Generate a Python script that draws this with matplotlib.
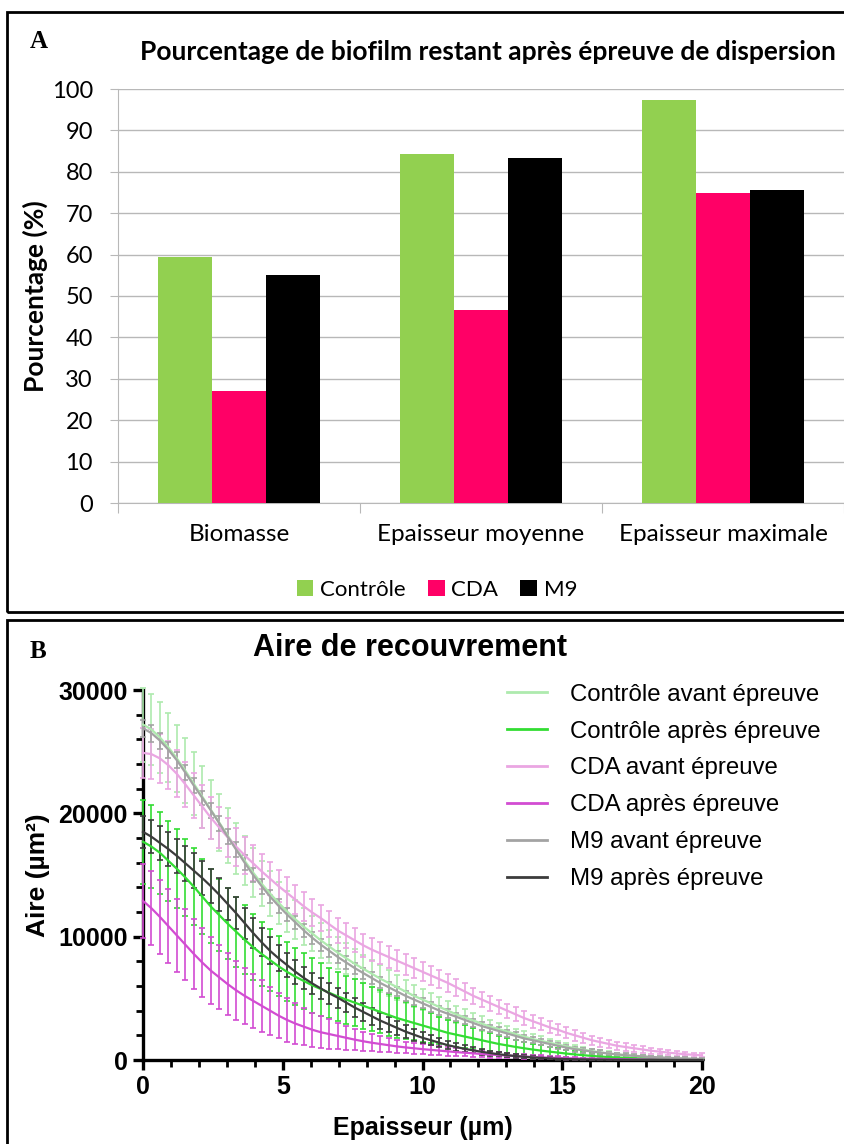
import numpy as np
import matplotlib.pyplot as plt
from matplotlib import font_manager
from matplotlib.lines import Line2D
from matplotlib.patches import Rectangle

# ---- A : pourcentage de biofilm restant ----
categories = ['Biomasse', 'Epaisseur moyenne', 'Epaisseur maximale']
controle_pct = [59.5, 84.3, 97.3]
cda_pct = [27.0, 46.5, 75.0]
m9_pct = [55.0, 83.3, 75.5]

# ---- B : aire de recouvrement (µm²) en fonction de l'épaisseur ----
epaisseur = np.linspace(0, 20, 67)

controle_avant = [27200, 26800, 26150, 25350, 24450, 23450, 22400, 21350, 20300, 19250,
                  18200, 17150, 16150, 15200, 14300, 13500, 12750, 12050, 11400, 10800,
                  10250, 9700, 9200, 8700, 8250, 7800, 7400, 7000, 6600, 6250,
                  5900, 5550, 5200, 4900, 4600, 4300, 4000, 3700, 3450, 3200,
                  2950, 2700, 2500, 2300, 2100, 1900, 1700, 1550, 1400, 1250,
                  1100, 950, 830, 720, 620, 530, 450, 380, 320, 270,
                  220, 180, 150, 120, 100, 80, 60]
controle_avant_sd = [3000, 2900, 2850, 2800, 2700, 2650, 2550, 2500, 2400, 2300,
                     2200, 2100, 2000, 1950, 1850, 1800, 1700, 1650, 1600, 1500,
                     1450, 1400, 1350, 1300, 1250, 1200, 1150, 1100, 1080, 1050,
                     1000, 950, 900, 850, 800, 780, 750, 700, 650, 620,
                     580, 550, 500, 480, 450, 420, 400, 370, 340, 310,
                     280, 250, 230, 210, 190, 170, 150, 130, 120, 110,
                     100, 90, 80, 70, 60, 50, 50]

controle_apres = [17700, 17300, 16800, 16150, 15500, 14800, 14050, 13250, 12450, 11750,
                  11050, 10400, 9750, 9150, 8600, 8100, 7600, 7150, 6750, 6400,
                  6050, 5750, 5450, 5150, 4900, 4650, 4400, 4150, 3900, 3650,
                  3400, 3200, 3000, 2800, 2600, 2400, 2200, 2050, 1900, 1750,
                  1600, 1450, 1300, 1180, 1060, 950, 850, 760, 680, 600,
                  520, 450, 390, 330, 280, 240, 200, 170, 140, 120,
                  100, 80, 70, 60, 50, 40, 30]
controle_apres_sd = [3400, 3350, 3300, 3250, 3200, 3150, 3100, 3050, 3000, 2950,
                     2900, 2850, 2800, 2700, 2600, 2500, 2450, 2400, 2300, 2250,
                     2200, 2150, 2050, 2000, 1950, 1900, 1850, 1800, 1750, 1700,
                     1600, 1500, 1400, 1300, 1200, 1100, 1050, 1000, 900, 850,
                     800, 700, 650, 600, 550, 500, 450, 420, 380, 350,
                     300, 280, 250, 220, 200, 180, 160, 140, 120, 100,
                     90, 80, 70, 60, 50, 40, 30]

cda_avant = [24900, 24800, 24450, 23900, 23200, 22350, 21450, 20550, 19650, 18850,
             18050, 17300, 16600, 15950, 15300, 14700, 14100, 13550, 13000, 12450,
             11950, 11500, 11000, 10500, 10100, 9700, 9300, 8950, 8650, 8350,
             8050, 7750, 7450, 7150, 6850, 6550, 6250, 5900, 5550, 5200,
             4900, 4600, 4300, 4000, 3700, 3400, 3150, 2900, 2650, 2450,
             2200, 2000, 1800, 1600, 1450, 1300, 1150, 1050, 950, 850,
             750, 680, 600, 530, 470, 420, 380]
cda_avant_sd = [2000, 2000, 1950, 1950, 1900, 1850, 1800, 1750, 1700, 1650,
                1600, 1550, 1500, 1450, 1400, 1350, 1300, 1250, 1200, 1150,
                1100, 1080, 1050, 1020, 1000, 980, 950, 920, 900, 880,
                850, 820, 800, 780, 760, 740, 720, 700, 680, 660,
                640, 620, 600, 580, 560, 540, 520, 500, 480, 460,
                440, 420, 400, 380, 360, 340, 320, 300, 280, 260,
                240, 220, 200, 190, 180, 170, 160]

cda_apres = [12900, 12300, 11600, 10850, 10100, 9350, 8600, 7900, 7250, 6700,
             6150, 5650, 5200, 4800, 4400, 4000, 3600, 3250, 2950, 2700,
             2450, 2250, 2100, 1950, 1800, 1650, 1520, 1400, 1300, 1200,
             1100, 1020, 950, 880, 820, 760, 700, 640, 590, 540,
             490, 440, 400, 360, 320, 280, 250, 220, 190, 170,
             150, 130, 110, 100, 90, 80, 70, 60, 50, 45,
             40, 35, 30, 25, 20, 20, 15]
cda_apres_sd = [3000, 3000, 3000, 3000, 2950, 2900, 2850, 2800, 2700, 2600,
                2500, 2400, 2300, 2200, 2100, 1950, 1850, 1750, 1650, 1500,
                1400, 1300, 1200, 1050, 950, 850, 750, 680, 620, 560,
                500, 470, 440, 400, 380, 360, 340, 320, 300, 280,
                260, 240, 220, 200, 190, 170, 160, 150, 130, 120,
                110, 100, 90, 80, 70, 60, 55, 50, 45, 40,
                40, 35, 30, 30, 25, 25, 20]

m9_avant = [26900, 26500, 25900, 25150, 24300, 23300, 22250, 21250, 20250, 19200,
            18100, 17050, 16000, 15000, 14100, 13250, 12500, 11800, 11150, 10500,
            9900, 9350, 8850, 8350, 7900, 7450, 7050, 6650, 6250, 5900,
            5550, 5200, 4900, 4600, 4300, 4000, 3750, 3500, 3250, 3000,
            2750, 2550, 2350, 2150, 1950, 1750, 1600, 1450, 1300, 1150,
            1000, 880, 780, 680, 600, 520, 450, 390, 340, 290,
            250, 210, 180, 150, 120, 100, 80]
m9_avant_sd = [700, 700, 650, 650, 650, 600, 600, 600, 600, 600,
               600, 600, 600, 600, 600, 550, 550, 550, 550, 550,
               500, 500, 500, 500, 500, 450, 450, 450, 450, 450,
               400, 400, 400, 400, 400, 350, 350, 350, 350, 350,
               300, 300, 300, 300, 300, 250, 250, 250, 250, 250,
               200, 200, 200, 200, 200, 150, 150, 150, 150, 150,
               100, 100, 100, 100, 100, 100, 100]

m9_apres = [18500, 18100, 17600, 17100, 16550, 15950, 15350, 14750, 14100, 13400,
            12650, 11900, 11100, 10300, 9550, 8850, 8250, 7700, 7150, 6650,
            6200, 5800, 5400, 5050, 4650, 4250, 3900, 3550, 3200, 2900,
            2600, 2300, 2050, 1800, 1600, 1400, 1200, 1050, 900, 780,
            660, 560, 470, 390, 320, 260, 210, 170, 130, 100,
            80, 60, 50, 40, 30, 25, 20, 15, 10, 10,
            10, 5, 5, 5, 5, 5, 5]
m9_apres_sd = [1300, 1350, 1400, 1400, 1400, 1400, 1400, 1400, 1350, 1350,
               1300, 1300, 1250, 1200, 1150, 1100, 1050, 1000, 950, 900,
               880, 850, 820, 800, 780, 750, 720, 700, 650, 600,
               550, 500, 470, 440, 400, 370, 340, 310, 280, 250,
               220, 200, 180, 160, 140, 120, 100, 90, 80, 70,
               60, 50, 40, 30, 30, 20, 20, 20, 10, 10,
               10, 10, 10, 10, 10, 10, 10]

series_b = [
    ('Contrôle avant épreuve', controle_avant, controle_avant_sd, '#aeeaae'),
    ('Contrôle après épreuve', controle_apres, controle_apres_sd, '#33dd33'),
    ('CDA avant épreuve', cda_avant, cda_avant_sd, '#eaa6e2'),
    ('CDA après épreuve', cda_apres, cda_apres_sd, '#d24cd2'),
    ('M9 avant épreuve', m9_avant, m9_avant_sd, '#a3a3a3'),
    ('M9 après épreuve', m9_apres, m9_apres_sd, '#3c3c3c'),
]

installed = {f.name for f in font_manager.fontManager.ttflist}
font_a = 'Lato' if 'Lato' in installed else 'DejaVu Sans'
font_b = 'Liberation Sans' if 'Liberation Sans' in installed else 'DejaVu Sans'
font_letter = 'Liberation Serif' if 'Liberation Serif' in installed else 'DejaVu Serif'

W, H = 845, 1144
fig = plt.figure(figsize=(W / 100, H / 100), dpi=100)


def fx(px):
    return px / W


def fy(py):
    return 1 - py / H


# cadres des deux panneaux
for top, bottom in [(12, 612), (620, 1150)]:
    fig.add_artist(Rectangle((fx(7), fy(bottom)), fx(860) - fx(7), fy(top) - fy(bottom),
                             transform=fig.transFigure, fill=False, lw=2, ec='black',
                             clip_on=False))

# ================= Panneau A =================
axA = fig.add_axes([fx(118), fy(503), fx(844) - fx(118), fy(89) - fy(503)])
xpos = np.arange(len(categories))
bw = 0.223
axA.bar(xpos - bw, controle_pct, bw, color='#92d050', label='Contrôle', zorder=3)
axA.bar(xpos, cda_pct, bw, color='#ff0066', label='CDA', zorder=3)
axA.bar(xpos + bw, m9_pct, bw, color='#000000', label='M9', zorder=3)

axA.set_xlim(-0.5, 2.5)
axA.set_ylim(0, 100)
axA.set_yticks(range(0, 101, 10))
axA.yaxis.grid(True, color='#b8b8b8', lw=1)
axA.set_axisbelow(True)
for s in ['top', 'right']:
    axA.spines[s].set_visible(False)
axA.spines['left'].set_color('#b8b8b8')
axA.spines['bottom'].set_color('#b8b8b8')
axA.set_xticks([-0.5, 0.5, 1.5, 2.5])
axA.set_xticklabels([])
axA.set_xticks(xpos, minor=True)
axA.set_xticklabels(categories, minor=True, fontsize=17.5, family=font_a)
axA.tick_params(axis='x', which='major', length=7, color='#b8b8b8')
axA.tick_params(axis='x', which='minor', length=0, pad=15)
axA.tick_params(axis='y', length=6, color='#b8b8b8', labelsize=17, pad=12)
for t in axA.get_yticklabels():
    t.set_family(font_a)
axA.set_ylabel('Pourcentage (%)', fontsize=19, fontweight='bold', family=font_a, labelpad=3)

fig.text(fx(140), fy(52), 'Pourcentage de biofilm restant après épreuve de dispersion',
         fontsize=19, fontweight='bold', family=font_a, ha='left', va='center')
fig.text(fx(30), fy(42), 'A', fontsize=18, fontweight='bold', family=font_letter,
         ha='left', va='center')

axA.legend(loc='center', bbox_to_anchor=(fx(437), fy(590)), bbox_transform=fig.transFigure,
           ncol=3, frameon=False, prop={'family': font_a, 'size': 16},
           handlelength=0.75, handleheight=0.75, handletextpad=0.3, columnspacing=1.0)

# ================= Panneau B =================
axB = fig.add_axes([fx(143), fy(1060), fx(702) - fx(143), fy(690) - fy(1060)])
for label, vals, sd, col in series_b:
    axB.errorbar(epaisseur, vals, yerr=sd, color=col, lw=1.6, elinewidth=1.2,
                 capsize=2, capthick=1.2, clip_on=False, zorder=3)

axB.set_xlim(0, 20)
axB.set_ylim(0, 30000)
axB.set_xticks([0, 5, 10, 15, 20])
axB.set_xticks(np.arange(0, 21, 1), minor=True)
axB.set_yticks([0, 10000, 20000, 30000])
axB.set_yticks(np.arange(0, 30001, 2000), minor=True)
for s in ['top', 'right']:
    axB.spines[s].set_visible(False)
for s in ['left', 'bottom']:
    axB.spines[s].set_linewidth(2.4)
axB.tick_params(which='major', length=7, width=2.4, labelsize=18, pad=4)
axB.tick_params(which='minor', length=5, width=2.0)
for t in axB.get_xticklabels() + axB.get_yticklabels():
    t.set_family(font_b)
    t.set_fontweight('bold')
axB.set_xlabel('Epaisseur (µm)', fontsize=18, fontweight='bold', family=font_b, labelpad=12)
axB.set_ylabel('Aire (µm²)', fontsize=19, fontweight='bold', family=font_b, labelpad=6)

fig.text(fx(410), fy(648), 'Aire de recouvrement', fontsize=22, fontweight='bold',
         family=font_b, ha='center', va='center')
fig.text(fx(30), fy(652), 'B', fontsize=18, fontweight='bold', family=font_letter,
         ha='left', va='center')

handles = [Line2D([], [], color=col, lw=2) for _, _, _, col in series_b]
labels = [lab for lab, _, _, _ in series_b]
fig.legend(handles, labels, loc='upper left', bbox_to_anchor=(fx(485), fy(662)),
           frameon=False, prop={'family': font_b, 'size': 17.3},
           handlelength=1.67, handletextpad=0.96, labelspacing=0.62)

fig.savefig('out.png', dpi=100)
